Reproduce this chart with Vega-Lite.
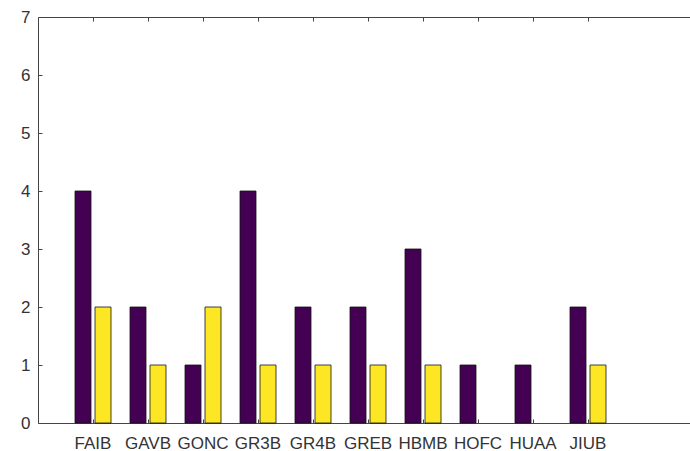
{
  "$schema": "https://vega.github.io/schema/vega-lite/v6.json",
  "width": 660,
  "height": 406,
  "autosize": {"type": "none"},
  "padding": {"left": 38, "top": 17, "right": 0, "bottom": 28},
  "background": "white",
  "config": {
    "view": {"stroke": "#444444", "strokeWidth": 1},
    "axis": {"labelFont": "Liberation Sans", "labelFontSize": 17, "labelColor": "#333333", "domain": false, "tickColor": "#444444", "grid": false, "title": null, "tickWidth": 1, "tickSize": 4, "offset": -4}
  },
  "data": {"values": [
    {"station": "FAIB", "series": "A", "count": 4}, {"station": "FAIB", "series": "B", "count": 2},
    {"station": "GAVB", "series": "A", "count": 2}, {"station": "GAVB", "series": "B", "count": 1},
    {"station": "GONC", "series": "A", "count": 1}, {"station": "GONC", "series": "B", "count": 2},
    {"station": "GR3B", "series": "A", "count": 4}, {"station": "GR3B", "series": "B", "count": 1},
    {"station": "GR4B", "series": "A", "count": 2}, {"station": "GR4B", "series": "B", "count": 1},
    {"station": "GREB", "series": "A", "count": 2}, {"station": "GREB", "series": "B", "count": 1},
    {"station": "HBMB", "series": "A", "count": 3}, {"station": "HBMB", "series": "B", "count": 1},
    {"station": "HOFC", "series": "A", "count": 1},
    {"station": "HUAA", "series": "A", "count": 1},
    {"station": "JIUB", "series": "A", "count": 2}, {"station": "JIUB", "series": "B", "count": 1}
  ]},
  "encoding": {
    "x": {"field": "station", "type": "nominal", "sort": null,
      "scale": {"range": [27.5, 577.5], "paddingInner": 0, "paddingOuter": 0}},
    "xOffset": {"field": "series", "type": "nominal",
      "scale": {"domain": ["A", "B"], "range": [9.5, 45.5], "paddingInner": 0.2, "paddingOuter": 0}},
    "y": {"field": "count", "type": "quantitative", "scale": {"domain": [0, 7], "nice": false}}
  },
  "layer": [
    {
      "mark": {"type": "bar", "stroke": "#111111", "strokeWidth": 0.8},
      "encoding": {
        "x": {"field": "station", "type": "nominal", "sort": null,
          "scale": {"range": [27.5, 577.5], "paddingInner": 0, "paddingOuter": 0},
          "axis": {"orient": "bottom", "labelAngle": 0, "labelPadding": 12, "labelBaseline": "top"}},
        "y": {"field": "count", "type": "quantitative", "scale": {"domain": [0, 7], "nice": false},
          "axis": {"orient": "left", "values": [0,1,2,3,4,5,6,7], "labelPadding": 8}},
        "color": {"field": "series", "type": "nominal", "legend": null,
          "scale": {"domain": ["A", "B"], "range": ["#440154", "#fde725"]}}
      }
    },
    {
      "mark": {"type": "bar", "opacity": 0},
      "encoding": {
        "x": {"field": "station", "type": "nominal", "sort": null,
          "scale": {"range": [27.5, 577.5], "paddingInner": 0, "paddingOuter": 0},
          "axis": {"orient": "top", "labels": false}},
        "y": {"field": "count", "type": "quantitative", "scale": {"domain": [0, 7], "nice": false},
          "axis": {"orient": "right", "labels": false, "values": [0,1,2,3,4,5,6,7]}}
      }
    }
  ],
  "resolve": {"axis": {"x": "independent", "y": "independent"}}
}
